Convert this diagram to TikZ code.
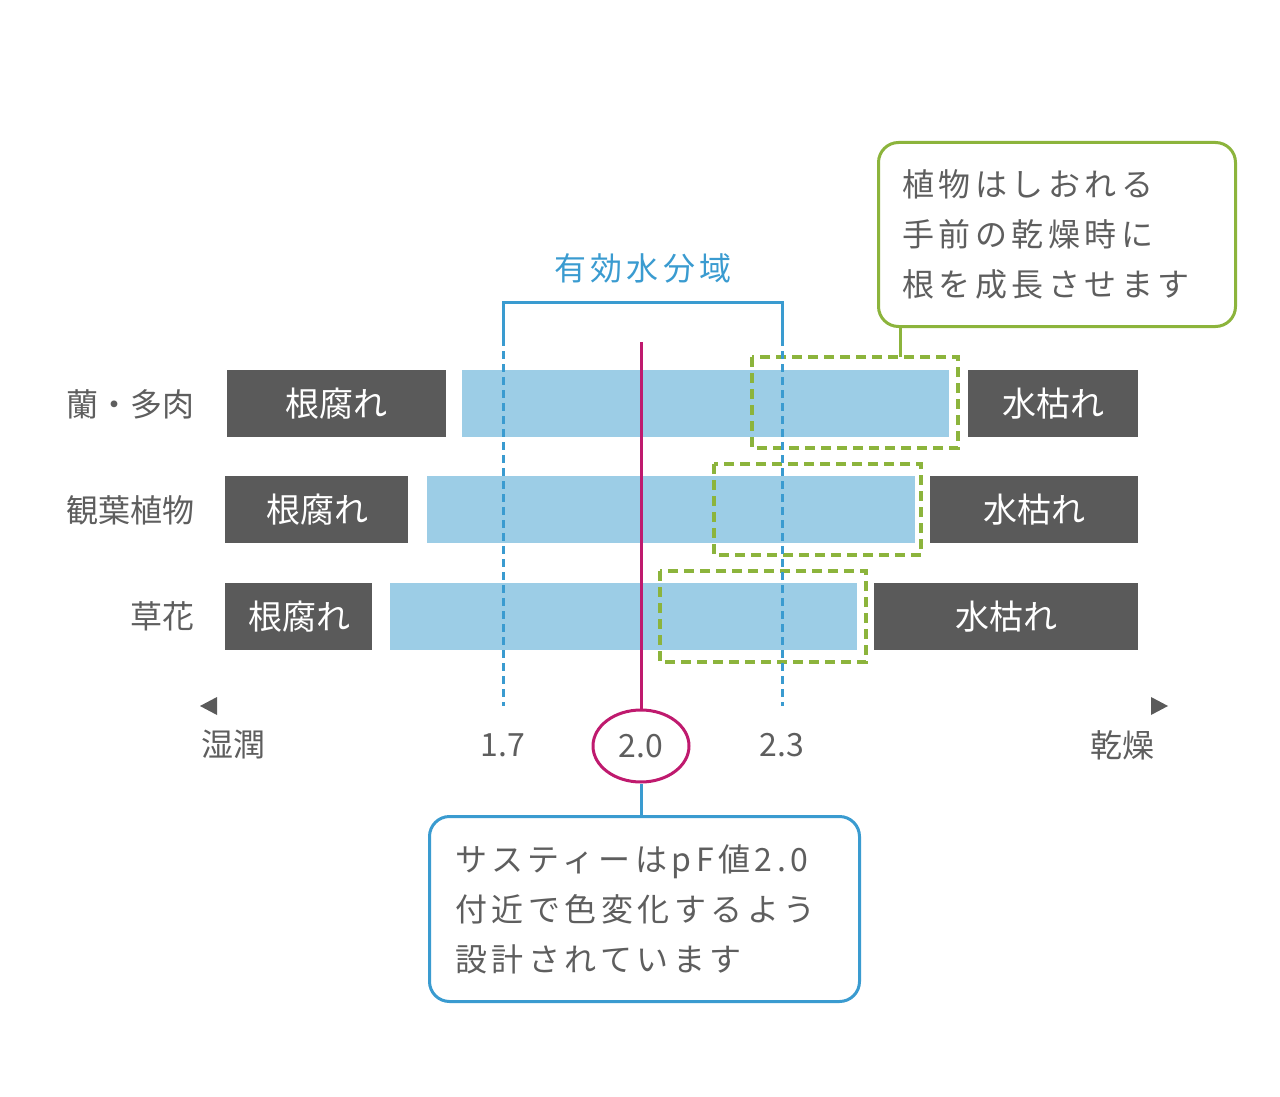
\documentclass[tikz,border=0pt]{standalone}
\usepackage{fontspec}
\setmainfont{Noto Sans CJK JP}
\newfontfamily\jpwide[LetterSpace=14]{Noto Sans CJK JP}
\usetikzlibrary{shapes.geometric}
\definecolor{rotgray}{HTML}{5A5A5A}
\definecolor{txtgray}{HTML}{5E5E5E}
\definecolor{barblue}{HTML}{9CCDE6}
\definecolor{zoneblue}{HTML}{3A9BD0}
\definecolor{pfred}{HTML}{BF1A6E}
\definecolor{leafgreen}{HTML}{8CB43C}
\begin{document}
\begin{tikzpicture}[x=0.5pt,y=0.5pt,yscale=-1,xscale=1,
	darkbox/.style={fill=rotgray},
	barfill/.style={fill=barblue},
	boxtext/.style={text=white,inner sep=0.75pt,font=\fontsize{17}{20}\selectfont},
	rowlabel/.style={text=txtgray,anchor=east,inner sep=0.75pt,font=\fontsize{16}{20}\selectfont},
	axislabel/.style={text=txtgray,inner sep=0.75pt,font=\fontsize{16}{20}\selectfont},
	growzone/.style={draw=leafgreen,line width=2pt,dash pattern={on 5pt off 3pt}},
	zoneline/.style={draw=zoneblue,line width=1.5pt,dash pattern={on 4pt off 2.5pt}},
	notebox/.style={rounded corners=10pt,line width=1.5pt,fill=white,text=txtgray,align=left,inner sep=0pt,
		font=\jpwide\fontsize{16}{25}\selectfont}]
	\useasboundingbox (0,0) rectangle (1280,1097);
	
	%Shape: Rectangle [row 1]
	\fill[darkbox] (227,370) rectangle (446,437);
	\fill[barfill] (462,370) rectangle (949,437);
	\fill[darkbox] (968,370) rectangle (1138,437);
	%Shape: Rectangle [row 2]
	\fill[darkbox] (225,476) rectangle (408,543);
	\fill[barfill] (427,476) rectangle (915,543);
	\fill[darkbox] (930,476) rectangle (1138,543);
	%Shape: Rectangle [row 3]
	\fill[darkbox] (225,583) rectangle (372,650);
	\fill[barfill] (390,583) rectangle (857,650);
	\fill[darkbox] (874,583) rectangle (1138,650);
	
	%Dashed Rectangles [growth zones]
	\draw[growzone] (752,357) rectangle (958,448);
	\draw[growzone] (714,464) rectangle (921,555);
	\draw[growzone] (660,571) rectangle (866,662);
	\coordinate (zonetop) at (900,357);
	
	%Straight Lines [effective water range]
	\draw[zoneblue,line width=1.5pt] (503,338) -- (503,302) -- (782,302) -- (782,338);
	\draw[zoneline] (503,338) -- (503,706);
	\draw[zoneline] (782,338) -- (782,706);
	
	% Text Node
	\draw (643,268) node [text=zoneblue,inner sep=0.75pt,font=\jpwide\fontsize{16}{20}\selectfont] (zone) {有効水分域};
	
	% Text Node
	\draw (336,404) node [boxtext] (rot1) {根腐れ};
	\draw (317,510) node [boxtext] (rot2) {根腐れ};
	\draw (299,617) node [boxtext] (rot3) {根腐れ};
	\draw (1053,404) node [boxtext] (dry1) {水枯れ};
	\draw (1034,510) node [boxtext] (dry2) {水枯れ};
	\draw (1006,617) node [boxtext] (dry3) {水枯れ};
	
	% Text Node
	\draw (196,404) node [rowlabel] (orchid) {蘭・多肉};
	\draw (196,510) node [rowlabel] (foliage) {観葉植物};
	\draw (196,616) node [rowlabel] (flower) {草花};
	
	%Shape: Triangle [axis ends]
	\fill[rotgray] (200,706) -- (217,697) -- (217,715) -- cycle;
	\fill[rotgray] (1168,706) -- (1151,697) -- (1151,715) -- cycle;
	
	% Text Node
	\draw (233,745) node [axislabel] (wet) {湿潤};
	\draw (1122,745) node [axislabel] (dry) {乾燥};
	\draw (503,745) node [axislabel] (low) {1.7};
	\draw (782,745) node [axislabel] (high) {2.3};
	\draw (641,746) node [axislabel,draw=pfred,line width=1.5pt,ellipse,minimum width=48pt,minimum height=36pt] (pf) {2.0};
	\coordinate (pftop) at (641,342);
	\draw[pfred,line width=1.5pt] (pf.north) -- (pftop);
	
	% Text Node [notes]
	\node[notebox,draw=leafgreen,anchor=north west,minimum width=178.5pt,minimum height=92pt,text width=154.5pt,inner xsep=12pt] (wilt) at (877,141) {植物はしおれる\\手前の乾燥時に\\根を成長させます};
	\node[notebox,draw=zoneblue,anchor=north west,minimum width=215pt,minimum height=92.5pt,text width=189pt,inner xsep=13pt] (sustee) at (428,815) {サスティーはpF値2.0\\付近で色変化するよう\\設計されています};
	
	%Straight Lines [connectors]
	\draw[leafgreen,line width=1.5pt] (wilt.south -| zonetop) -- (zonetop);
	\draw[zoneblue,line width=1.5pt] (pf.south) -- (sustee.north -| pf.south);
\end{tikzpicture}
\end{document}
